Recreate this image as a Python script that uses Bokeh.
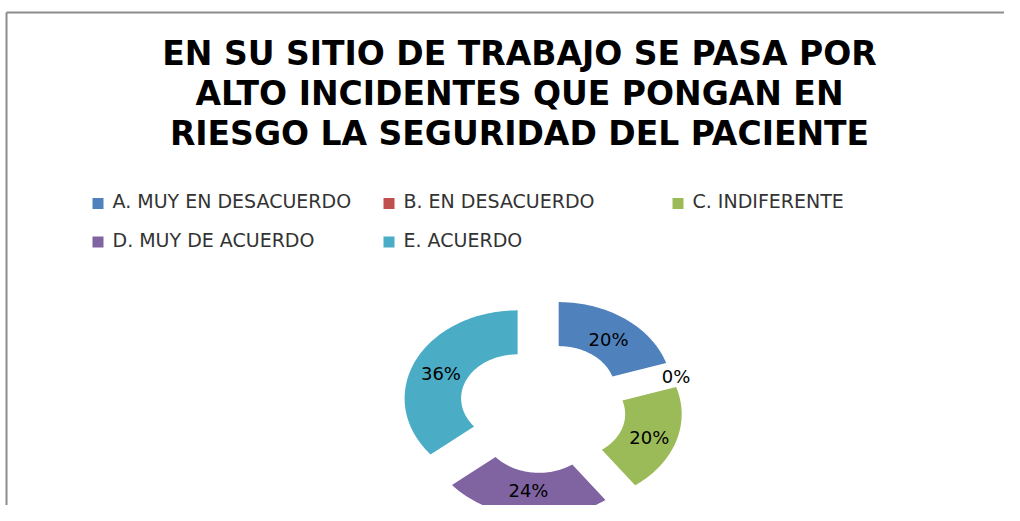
import numpy as np
from bokeh.plotting import figure
from bokeh.models import Range1d
from bokeh.core.properties import value
from bokeh.embed import file_html
from bokeh.resources import INLINE

# ---- data ----
categories = ["A. MUY EN DESACUERDO", "B. EN DESACUERDO", "C. INDIFERENTE",
              "D. MUY DE ACUERDO", "E. ACUERDO"]
percentages = [20, 0, 20, 24, 36]
colors = ["#4F81BD", "#C0504D", "#9BBB59", "#8064A2", "#4BACC6"]
title_lines = ["EN SU SITIO DE TRABAJO SE PASA POR",
               "ALTO INCIDENTES QUE PONGAN EN",
               "RIESGO LA SEGURIDAD DEL PACIENTE"]

# ---- canvas (data units == pixels, y downward) ----
W, H = 1004, 505
p = figure(width=W, height=H, x_range=Range1d(0, W), y_range=Range1d(H, 0),
           output_backend="svg", toolbar_location=None,
           x_axis_type=None, y_axis_type=None, min_border=0,
           outline_line_color=None)
p.background_fill_color = "white"
p.border_fill_color = "white"

FONT = value("DejaVu Sans")

# frame lines
p.segment(x0=[6, 6], y0=[12, 12], x1=[W, 6], y1=[12, H], line_color="#8c8c8c", line_width=2)

# title
p.text(x=[519] * 3, y=[53, 93, 133], text=title_lines, text_font=FONT,
       text_font_style="bold", text_font_size="33px", text_align="center",
       text_baseline="alphabetic", text_color="#000000")

# legend
col_x = [92, 383, 672]
row_y = [203, 241.5]
lx, ly = [], []
for i in range(len(categories)):
    lx.append(col_x[i % 3])
    ly.append(row_y[i // 3])
p.rect(x=[x + 5.5 for x in lx], y=ly, width=11, height=11, fill_color=colors,
       line_color=None)
p.text(x=[x + 20 for x in lx], y=[y - 2.5 for y in ly], text=categories,
       text_font=FONT, text_font_size="19px", text_baseline="alphabetic",
       text_color="#333333")

# donut (elliptical, exploded)
cx, cy = 542, 407
Rx, Ry = 113, 88
inner = 0.5
ex, ey = 27.5, 21.5
xs, ys, fills = [], [], []
lab_x, lab_y, lab_t = [], [], []
a0 = 90.0
for v, c in zip(percentages, colors):
    a1 = a0 - v / 100 * 360
    mid = np.radians((a0 + a1) / 2)
    dx = ex * np.cos(mid)
    dy = -ey * np.sin(mid)
    if v > 0:
        th = np.radians(np.linspace(a0, a1, 80))
        ox = cx + Rx * np.cos(th) + dx
        oy = cy - Ry * np.sin(th) + dy
        ix = cx + inner * Rx * np.cos(th[::-1]) + dx
        iy = cy - inner * Ry * np.sin(th[::-1]) + dy
        xs.append(list(np.concatenate([ox, ix])))
        ys.append(list(np.concatenate([oy, iy])))
        fills.append(c)
        lr = (1 + inner) / 2
    else:
        lr = 1.0
    lab_x.append(cx + lr * Rx * np.cos(mid) + dx)
    lab_y.append(min(cy - lr * Ry * np.sin(mid) + dy + 3, H - 15))
    lab_t.append(f"{v}%")
    a0 = a1

p.patches(xs=xs, ys=ys, fill_color=fills, line_color=None)
p.text(x=lab_x, y=lab_y, text=lab_t, text_font=FONT, text_font_size="18px",
       text_align="center", text_baseline="alphabetic", text_color="#000000")

open("out.html", "w").write(file_html(p, INLINE))
